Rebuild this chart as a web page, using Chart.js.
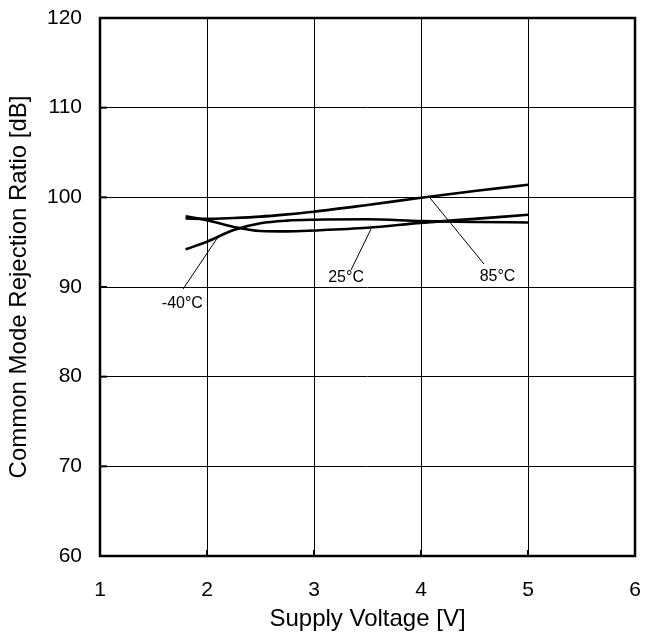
<!DOCTYPE html>
<html lang="en">
<head>
<meta charset="UTF-8"/>
<title>CMRR vs Supply Voltage</title>
<script src="https://cdn.jsdelivr.net/npm/chart.js"></script>
<style>
  * { margin: 0; padding: 0; box-sizing: border-box; }
  body { background: #fff; }
  #wrap { width: 645px; height: 637px; position: relative; }
</style>
</head>
<body>
<div id="wrap"><canvas id="cmrr"></canvas></div>
<script>
// supply voltage [V] and CMRR [dB]
const voltage  = [1.8, 2.0, 2.25, 2.5, 2.75, 3.0, 3.5, 4.0, 4.5, 5.0];
const cmrrM40  = [94.2, 95.05, 96.35, 97.1, 97.4, 97.5, 97.55, 97.35, 97.25, 97.2];
const cmrr25   = [97.9, 97.45, 96.7, 96.25, 96.2, 96.3, 96.6, 97.15, 97.6, 98.05];
const cmrr85   = [97.65, 97.6, 97.7, 97.85, 98.1, 98.4, 99.15, 99.95, 100.7, 101.4];

const xTicks = [1, 2, 3, 4, 5, 6];
const yTicks = [60, 70, 80, 90, 100, 110, 120];

// curve labels + leader lines, in data units
const tempLabels = ['-40°C', '25°C', '85°C'];
const labelX     = [1.77, 3.30, 4.715];
const labelY     = [88.1, 91.0, 91.2];
const leaderX0   = [1.776, 3.346, 4.589];
const leaderY0   = [89.77, 91.89, 92.56];
const leaderX1   = [2.103, 3.533, 4.084];
const leaderY1   = [95.58, 96.47, 99.93];

const FONT = "'Liberation Sans', Arial, sans-serif";

const toPts = ys => voltage.map((v, i) => ({ x: v, y: ys[i] }));
const series = [cmrrM40, cmrr25, cmrr85];

const frame = {
  id: 'frame',
  afterDatasetsDraw(chart) {
    const { ctx, chartArea: a, scales: { x, y } } = chart;
    ctx.save();
    // leader lines and labels
    ctx.strokeStyle = '#000';
    ctx.lineWidth = 1;
    for (let i = 0; i < tempLabels.length; i++) {
      ctx.beginPath();
      ctx.moveTo(x.getPixelForValue(leaderX0[i]), y.getPixelForValue(leaderY0[i]));
      ctx.lineTo(x.getPixelForValue(leaderX1[i]), y.getPixelForValue(leaderY1[i]));
      ctx.stroke();
    }
    ctx.fillStyle = '#000';
    ctx.font = '16px ' + FONT;
    ctx.textAlign = 'center';
    ctx.textBaseline = 'middle';
    tempLabels.forEach((t, i) => {
      ctx.fillText(t, x.getPixelForValue(labelX[i]), y.getPixelForValue(labelY[i]));
    });
    // inner tick marks
    ctx.lineWidth = 2;
    xTicks.slice(1, -1).forEach(v => {
      const px = x.getPixelForValue(v);
      ctx.beginPath(); ctx.moveTo(px, a.bottom); ctx.lineTo(px, a.bottom - 6); ctx.stroke();
    });
    yTicks.slice(1, -1).forEach(v => {
      const py = y.getPixelForValue(v);
      ctx.beginPath(); ctx.moveTo(a.left, py); ctx.lineTo(a.left + 7, py); ctx.stroke();
    });
    // heavy frame
    ctx.lineWidth = 2.5;
    ctx.strokeRect(a.left, a.top, a.right - a.left, a.bottom - a.top);
    ctx.restore();
  }
};

new Chart(document.getElementById('cmrr'), {
  type: 'scatter',
  data: {
    datasets: series.map((s, i) => ({
      label: tempLabels[i],
      data: toPts(s),
      showLine: true,
      borderColor: '#000',
      borderWidth: 2.6,
      pointRadius: 0,
      cubicInterpolationMode: 'monotone',
      fill: false
    }))
  },
  options: {
    responsive: true,
    maintainAspectRatio: false,
    animation: false,
    layout: { padding: { top: 18, right: 10, left: 0, bottom: 0 } },
    plugins: { legend: { display: false }, tooltip: { enabled: false } },
    scales: {
      x: {
        type: 'linear', min: 1, max: 6,
        afterBuildTicks: s => { s.ticks = xTicks.map(v => ({ value: v })); },
        afterFit: s => { s.height = 81; s.paddingLeft = 0; s.paddingRight = 0; },
        grid: { color: '#000', lineWidth: 1, drawTicks: false },
        border: { display: false },
        ticks: { color: '#000', font: { family: FONT, size: 21 }, padding: 22 },
        title: { display: true, text: 'Supply Voltage [V]', color: '#000',
                 font: { family: FONT, size: 24 }, padding: { top: 0, bottom: 3 } }
      },
      y: {
        type: 'linear', min: 60, max: 120,
        afterBuildTicks: s => { s.ticks = yTicks.map(v => ({ value: v })); },
        afterFit: s => { s.width = 100; s.paddingTop = 0; s.paddingBottom = 0; },
        grid: { color: '#000', lineWidth: 1, drawTicks: false },
        border: { display: false },
        ticks: { color: '#000', font: { family: FONT, size: 21 }, padding: 18 },
        title: { display: true, text: 'Common Mode Rejection Ratio [dB]', color: '#000',
                 font: { family: FONT, size: 24 }, padding: { top: 5, bottom: 0 } }
      }
    }
  },
  plugins: [frame]
});
</script>
</body>
</html>
